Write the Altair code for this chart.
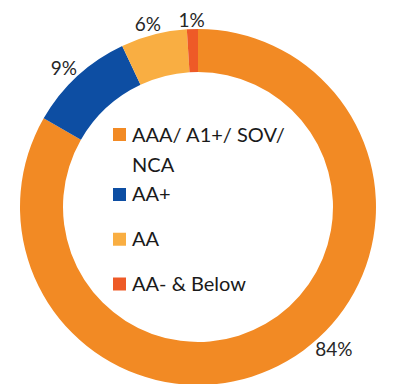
import altair as alt
import pandas as pd

categories = ["AAA/ A1+/ SOV/ NCA", "AA+", "AA", "AA- & Below"]
legend_labels = ["AAA/ A1+/ SOV/\nNCA", "AA+", "AA", "AA- & Below"]
values = [83.3, 9.7, 6.0, 1.0]
pct_labels = ["84%", "9%", "6%", "1%"]
colors = ["#F28A24", "#0D4EA3", "#F9AE42", "#EE5A27"]

df = pd.DataFrame({"category": categories, "legend": legend_labels,
                   "value": values, "pct": pct_labels})

CX, CY = 190, 199

base = alt.Chart(df).transform_window(idx="row_number()")

color = alt.Color("category:N", scale=alt.Scale(domain=categories, range=colors), legend=None)

arcs = base.mark_arc(radius=178, radius2=135).encode(
    theta=alt.Theta("value:Q", stack=True),
    order=alt.Order("idx:Q"),
    color=color,
    x=alt.value(CX), y=alt.value(CY),
)

# label placed just outside the ring, at a distance depending on its box size
labels = base.transform_joinaggregate(total="sum(value)").transform_window(
    cum="sum(value)", sort=[alt.SortField("idx")], frame=[None, 0]
).transform_calculate(
    mid="datum.cum - 0.545*datum.value"
).transform_calculate(
    a="2*PI*datum.mid/datum.total"
).transform_calculate(
    rad="175.5 + abs(sin(datum.a))*7*length(datum.pct) + abs(cos(datum.a))*10"
).mark_text(font="Lato", fontSize=19, color="#262626").encode(
    theta=alt.Theta("mid:Q", stack=None),
    radius=alt.Radius("rad:Q", scale=None),
    text="pct:N",
    x=alt.value(CX), y=alt.value(CY),
)

leg = base.transform_calculate(
    extra="indexof(datum.legend, '\\n') >= 0 ? 1 : 0"
).transform_window(
    cumextra="sum(extra)", sort=[alt.SortField("idx")], frame=[None, 0]
).transform_calculate(slot="datum.idx - 1 + 0.34*(datum.cumextra - datum.extra)")

ysc = alt.Y("slot:Q", scale=alt.Scale(domain=[0, 3.34], range=[126.5, 276], nice=False, zero=False), axis=None)

squares = leg.mark_square(size=169, opacity=1).encode(
    x=alt.value(111.5), y=ysc, color=color
)
texts = leg.mark_text(align="left", baseline="alphabetic", dy=7, lineBreak="\n",
                      lineHeight=30, font="Lato", fontSize=20, color="#1a1a1a").encode(
    x=alt.value(124), y=ysc, text="legend:N"
)

chart = alt.layer(arcs, labels, squares, texts).properties(
    width=387, height=376, autosize=alt.AutoSizeParams(type="none"), padding=0
).configure_view(stroke=None)

chart.save("out.html", embed_options={"renderer": "svg", "actions": False})
